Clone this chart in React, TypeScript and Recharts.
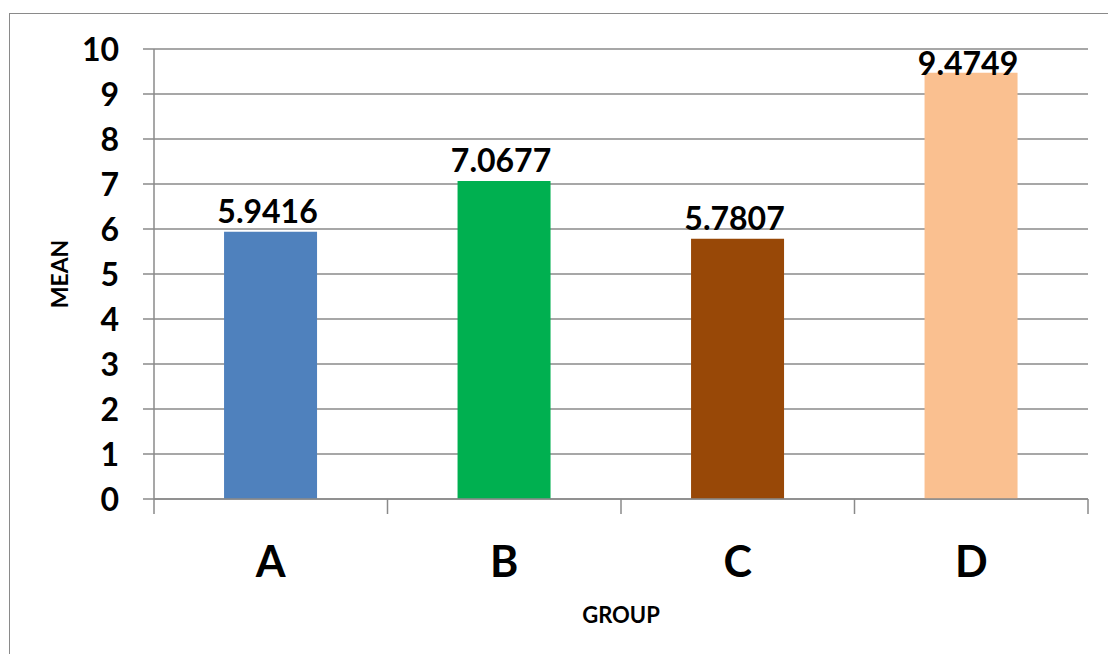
import React from "react";
import { Bar, BarChart, CartesianGrid, Cell, LabelList, XAxis, YAxis } from "recharts";

const GROUPS = ["A", "B", "C", "D"];
const MEANS = [5.9416, 7.0677, 5.7807, 9.4749];
const Y_TICKS = [0, 1, 2, 3, 4, 5, 6, 7, 8, 9, 10];
const BAR_COLORS = ["#4F81BD", "#00B050", "#984807", "#FAC090"];

const data = GROUPS.map((group, i) => ({ group, mean: MEANS[i] }));

const WIDTH = 1108;
const HEIGHT = 654;
const MARGIN = { top: 49, right: 20, bottom: 0, left: 0 };
const Y_AXIS_WIDTH = 154;
const X_AXIS_HEIGHT = 155;
const PLOT_WIDTH = WIDTH - MARGIN.left - MARGIN.right - Y_AXIS_WIDTH;
const BAND = PLOT_WIDTH / GROUPS.length;

const FONT = "Lato, 'Open Sans', sans-serif";
const AXIS_GREY = "#8a8a8a";

function ValueTick({ x, y, payload }: any) {
  return (
    <text x={x} y={y + 12} textAnchor="end" fontFamily={FONT} fontWeight={700} fontSize={32} fill="#000">
      {payload.value}
    </text>
  );
}

// Excel-style category axis: tick marks sit on the band edges, labels in the middle
function GroupTick({ x, y, payload, index }: any) {
  const left = x - BAND / 2;
  const right = x + BAND / 2;
  return (
    <g>
      <line x1={left} x2={left} y1={y} y2={y + 15} stroke={AXIS_GREY} strokeWidth={1.5} />
      {index === GROUPS.length - 1 && (
        <line x1={right} x2={right} y1={y} y2={y + 15} stroke={AXIS_GREY} strokeWidth={1.5} />
      )}
      <text x={x} y={y + 78} textAnchor="middle" fontFamily={FONT} fontWeight={700} fontSize={43} fill="#000">
        {payload.value}
      </text>
    </g>
  );
}

// value above the bar, kept inside the plot area when the bar is near the top
function MeanLabel({ x, y, width, value }: any) {
  const ty = Math.max(y - 9, MARGIN.top + 26);
  return (
    <text x={x + width / 2 - 3} y={ty} textAnchor="middle" fontFamily={FONT} fontWeight={700} fontSize={32} fill="#000">
      {value}
    </text>
  );
}

export default function App() {
  return (
    <div
      style={{
        position: "fixed",
        left: 0,
        top: 0,
        width: WIDTH,
        height: HEIGHT,
        overflow: "hidden",
        background: "#fff",
      }}
    >
      <div
        style={{
          position: "absolute",
          left: 9,
          top: 13,
          width: WIDTH,
          height: HEIGHT,
          border: `1px solid ${AXIS_GREY}`,
        }}
      />
      <div style={{ position: "absolute", left: 0, top: 0 }}>
        <BarChart width={WIDTH} height={HEIGHT} data={data} margin={MARGIN} barCategoryGap="30%">
          <CartesianGrid vertical={false} stroke={AXIS_GREY} strokeWidth={1.5} />
          <XAxis
            dataKey="group"
            height={X_AXIS_HEIGHT}
            axisLine={{ stroke: AXIS_GREY, strokeWidth: 1.5 }}
            tickLine={false}
            tickSize={0}
            tickMargin={0}
            interval={0}
            tick={<GroupTick />}
            label={() => (
              <text x={621} y={623} textAnchor="middle" fontFamily={FONT} fontWeight={700} fontSize={22} fill="#000">
                GROUP
              </text>
            )}
          />
          <YAxis
            width={Y_AXIS_WIDTH}
            domain={[0, 10]}
            ticks={Y_TICKS}
            interval={0}
            axisLine={{ stroke: AXIS_GREY, strokeWidth: 1.5 }}
            tickLine={{ stroke: AXIS_GREY, strokeWidth: 1.5 }}
            tickSize={11}
            tickMargin={24}
            tick={<ValueTick />}
            label={() => (
              <text
                x={68}
                y={274}
                transform="rotate(-90 68 274)"
                textAnchor="middle"
                fontFamily={FONT}
                fontWeight={700}
                fontSize={23}
                fill="#000"
              >
                MEAN
              </text>
            )}
          />
          <Bar dataKey="mean" isAnimationActive={false}>
            {data.map((d, i) => (
              <Cell key={d.group} fill={BAR_COLORS[i]} />
            ))}
            <LabelList dataKey="mean" content={<MeanLabel />} />
          </Bar>
        </BarChart>
      </div>
    </div>
  );
}
